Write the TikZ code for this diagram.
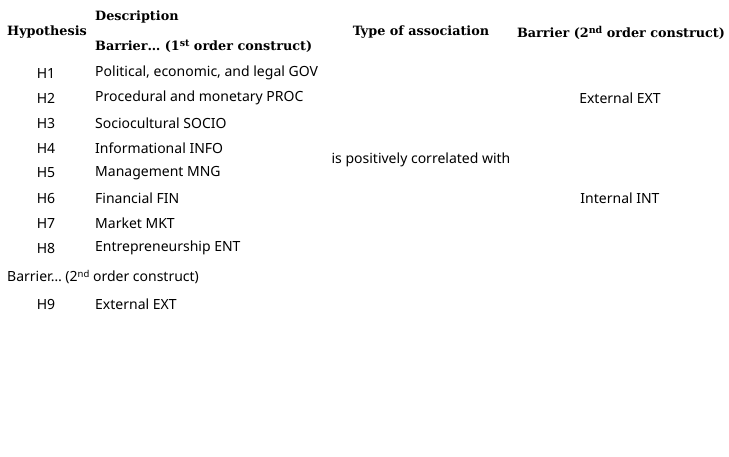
\documentclass[tikz,border=0pt]{standalone}
\usepackage{fontspec}
\setmainfont{DejaVu Serif}
\newfontfamily\bodyf{Noto Sans}
\newcommand{\supx}[1]{\raisebox{0.55ex}{\fontsize{9.5}{10}\selectfont #1}}
\begin{document}
\begin{tikzpicture}[x=1pt,y=-1pt,
  hd/.style={inner sep=0pt,font=\fontsize{12.8}{14}\selectfont\bfseries},
  bd/.style={inner sep=0pt,font=\bodyf\fontsize{14}{16}\selectfont}]
\useasboundingbox (0,0) rectangle (729,456);
\node[hd,anchor=west] (hy) at (7,32) {Hypothesis};
\node[hd,anchor=west] (de) at (95,17) {Description};
\node[hd,anchor=west] (b1) at (95,46) {Barrier\dots{} (1\supx{st} order construct)};
\node[hd] (ty) at (421,32) {Type of association};
\node[hd] (b2) at (621,33) {Barrier (2\supx{nd} order construct)};
\foreach \h/\t/\y in {1/{Political, economic, and legal GOV}/73,2/{Procedural and monetary PROC}/98,3/{Sociocultural SOCIO}/123,4/{Informational INFO}/148,5/{Management MNG}/173,6/{Financial FIN}/198,7/{Market MKT}/223,8/{Entrepreneurship ENT}/248,9/{External EXT}/304}{
  \node[bd] (h\h) at (46,\y) {H\h};
  \node[bd,anchor=west] (d\h) at (95,\y) {\t};
}
\node[bd,anchor=west] (b2nd) at (7,277) {Barrier\dots{} (2\supx{nd} order construct)};
\node[bd] (pc) at (421,160) {is positively correlated with};
\node[bd] (ext) at (620,98) {External EXT};
\node[bd] (int) at (620,198) {Internal INT};
\end{tikzpicture}
\end{document}
